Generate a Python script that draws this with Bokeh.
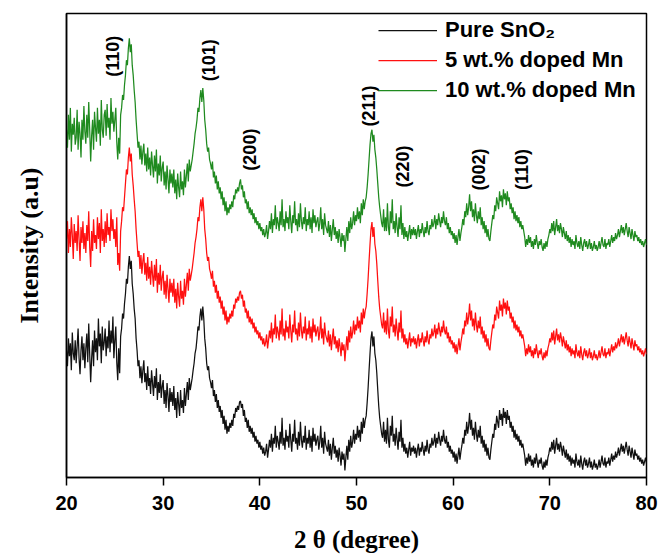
import numpy as np
from math import pi
from bokeh.plotting import figure
from bokeh.models import ColumnDataSource, Legend, LegendItem, FixedTicker, Range1d
from bokeh.core.properties import value
from bokeh.embed import file_html
from bokeh.resources import INLINE

# 2-theta scan grid (degrees), step 0.1
two_theta = np.round(20 + 0.1 * np.arange(601), 1)

# Intensities (a.u.); one line per degree (x.0 .. x.9)
pure_sno2 = [
    128, 112, 140, 122, 135, 108, 146, 125, 118, 138,
    115, 132, 150, 120, 104, 128, 142, 118, 135, 110,
    130, 145, 116, 155, 124, 96, 120, 138, 112, 148,
    126, 140, 118, 160, 132, 145, 115, 152, 128, 136,
    150, 122, 142, 130, 158, 126, 148, 135, 162, 120,
    138, 152, 116, 98, 130, 105, 142, 150, 165, 160,
    175, 185, 200, 195, 212, 223, 210, 218, 195, 185,
    170, 160, 140, 128, 112, 118, 100, 112, 95, 108,
    118, 96, 105, 88, 112, 92, 100, 84, 108, 95,
    82, 102, 90, 110, 78, 96, 85, 104, 80, 92,
    98, 74, 88, 70, 95, 82, 66, 90, 76, 86,
    72, 92, 68, 80, 60, 86, 74, 62, 88, 70,
    78, 65, 90, 72, 84, 96, 78, 100, 88, 94,
    100, 108, 115, 125, 130, 140, 152, 148, 162, 170,
    158, 172, 160, 140, 130, 115, 108, 112, 100, 96,
    90, 98, 82, 88, 76, 84, 70, 78, 66, 72,
    60, 68, 54, 62, 48, 58, 44, 52, 46, 55,
    50, 58, 52, 64, 60, 70, 66, 72, 68, 76,
    77, 70, 74, 62, 68, 56, 60, 50, 58, 46,
    52, 44, 50, 40, 46, 36, 42, 34, 38, 30,
    36, 28, 32, 24, 30, 22, 26, 34, 20, 28,
    38, 30, 44, 26, 40, 34, 52, 30, 42, 36,
    28, 46, 34, 60, 32, 40, 28, 48, 36, 42,
    30, 54, 38, 26, 44, 36, 58, 34, 40, 28,
    46, 32, 56, 38, 30, 42, 35, 52, 28, 40,
    34, 48, 30, 42, 26, 50, 36, 44, 32, 38,
    42, 28, 36, 52, 30, 40, 24, 46, 34, 30,
    26, 38, 22, 34, 18, 30, 40, 24, 32, 20,
    28, 16, 30, 22, 12, 26, 18, 24, 7, 20,
    32, 18, 38, 26, 42, 30, 36, 48, 34, 44,
    38, 52, 40, 48, 36, 56, 44, 60, 50, 58,
    62, 75, 90, 108, 125, 140, 147, 132, 142, 125,
    118, 105, 88, 72, 60, 52, 44, 40, 56, 36,
    48, 34, 60, 38, 30, 52, 42, 62, 36, 44,
    32, 50, 38, 28, 46, 36, 58, 30, 40, 26,
    34, 24, 30, 20, 28, 36, 22, 30, 26, 32,
    24, 30, 20, 28, 34, 22, 30, 26, 36, 28,
    22, 32, 26, 38, 28, 24, 34, 30, 40, 32,
    36, 44, 30, 40, 34, 46, 38, 32, 42, 36,
    48, 38, 34, 42, 30, 36, 26, 32, 24, 28,
    20, 26, 16, 24, 14, 22, 30, 18, 26, 32,
    40, 34, 48, 42, 56, 44, 52, 65, 48, 58,
    42, 50, 38, 56, 44, 36, 48, 40, 52, 34,
    42, 30, 38, 26, 34, 22, 30, 20, 18, 28,
    36, 44, 40, 54, 48, 62, 56, 50, 68, 58,
    64, 52, 70, 60, 66, 54, 68, 58, 62, 50,
    56, 46, 52, 40, 48, 38, 44, 36, 42, 32,
    38, 30, 34, 28, 22, 12, 20, 14, 24, 16,
    22, 12, 18, 10, 20, 14, 24, 16, 10, 18,
    14, 20, 12, 8, 16, 10, 18, 12, 20, 24,
    30, 26, 36, 28, 38, 24, 32, 40, 28, 34,
    26, 36, 30, 22, 32, 26, 20, 28, 18, 24,
    16, 22, 12, 20, 14, 18, 10, 24, 16, 12,
    18, 10, 22, 14, 8, 16, 20, 12, 18, 10,
    14, 20, 10, 16, 8, 12, 18, 10, 14, 8,
    12, 18, 10, 16, 22, 14, 12, 20, 10, 16,
    14, 20, 12, 18, 24, 16, 22, 18, 26, 20,
    24, 30, 22, 28, 34, 26, 32, 24, 30, 36,
    28, 22, 32, 26, 20, 30, 24, 18, 28, 22,
    24, 18, 22, 16, 20, 14, 18, 12, 16, 20,
    14,
]

mn_5 = [
    240, 258, 226, 250, 232, 262, 244, 220, 255, 236,
    248, 228, 264, 240, 218, 252, 236, 258, 230, 246,
    226, 254, 238, 268, 232, 212, 248, 228, 260, 236,
    244, 230, 262, 240, 256, 226, 270, 238, 250, 232,
    258, 236, 266, 244, 252, 238, 270, 248, 260, 240,
    250, 232, 262, 214, 226, 208, 248, 258, 272, 268,
    282, 296, 310, 305, 322, 332, 318, 326, 305, 294,
    280, 268, 250, 236, 222, 228, 210, 224, 205, 218,
    226, 204, 216, 198, 222, 200, 212, 194, 218, 204,
    192, 214, 198, 220, 186, 206, 194, 214, 188, 202,
    208, 184, 198, 180, 204, 190, 176, 200, 186, 196,
    182, 200, 176, 190, 170, 196, 182, 172, 198, 180,
    188, 174, 200, 182, 194, 206, 188, 210, 198, 204,
    210, 218, 226, 236, 242, 250, 262, 258, 272, 280,
    268, 282, 270, 250, 240, 226, 218, 222, 210, 206,
    200, 208, 192, 198, 186, 194, 180, 188, 176, 182,
    170, 178, 164, 172, 158, 168, 154, 162, 156, 165,
    160, 168, 162, 174, 170, 180, 176, 182, 178, 186,
    188, 180, 184, 172, 178, 166, 170, 160, 168, 156,
    162, 154, 160, 150, 156, 146, 152, 144, 148, 140,
    146, 138, 142, 134, 140, 132, 136, 144, 130, 138,
    148, 140, 156, 136, 150, 144, 164, 140, 152, 146,
    138, 158, 144, 170, 142, 150, 138, 158, 146, 152,
    140, 164, 148, 136, 154, 146, 168, 144, 150, 138,
    156, 142, 166, 148, 140, 152, 145, 162, 138, 150,
    144, 158, 140, 152, 136, 160, 146, 154, 142, 148,
    152, 138, 146, 162, 140, 150, 134, 156, 144, 140,
    136, 148, 132, 144, 128, 140, 150, 134, 142, 130,
    138, 126, 140, 132, 122, 136, 128, 134, 117, 130,
    142, 128, 148, 136, 152, 140, 146, 158, 144, 154,
    148, 162, 150, 158, 146, 166, 154, 170, 160, 168,
    172, 185, 200, 218, 235, 250, 257, 242, 252, 235,
    228, 215, 198, 182, 170, 162, 154, 150, 166, 146,
    158, 144, 170, 148, 140, 162, 152, 172, 146, 154,
    142, 160, 148, 138, 156, 146, 168, 140, 150, 136,
    144, 134, 140, 130, 138, 146, 132, 140, 136, 142,
    134, 140, 130, 138, 144, 132, 140, 136, 146, 138,
    132, 142, 136, 148, 138, 134, 144, 140, 150, 142,
    146, 154, 140, 150, 144, 156, 148, 142, 152, 146,
    158, 148, 144, 152, 140, 146, 136, 142, 134, 138,
    130, 136, 126, 134, 124, 132, 140, 128, 136, 142,
    150, 144, 158, 152, 166, 154, 162, 175, 158, 168,
    152, 160, 148, 166, 154, 146, 158, 150, 162, 144,
    152, 140, 148, 136, 144, 132, 140, 130, 128, 138,
    146, 154, 150, 164, 158, 172, 166, 160, 178, 168,
    174, 162, 180, 170, 176, 164, 178, 168, 172, 160,
    166, 156, 162, 150, 158, 148, 154, 146, 152, 142,
    148, 140, 144, 138, 132, 122, 130, 124, 134, 126,
    132, 122, 128, 120, 130, 124, 134, 126, 120, 128,
    124, 130, 122, 118, 126, 120, 128, 122, 130, 134,
    140, 136, 146, 138, 148, 134, 142, 150, 138, 144,
    136, 146, 140, 132, 142, 136, 130, 138, 128, 134,
    126, 132, 122, 130, 124, 128, 120, 134, 126, 122,
    128, 120, 132, 124, 118, 126, 130, 122, 128, 120,
    124, 130, 120, 126, 118, 122, 128, 120, 124, 118,
    122, 128, 120, 126, 132, 124, 122, 130, 120, 126,
    124, 130, 122, 128, 134, 126, 132, 128, 136, 130,
    134, 140, 132, 138, 144, 136, 142, 134, 140, 146,
    138, 132, 142, 136, 130, 140, 134, 128, 138, 132,
    134, 128, 132, 126, 130, 124, 128, 122, 126, 130,
    124,
]

mn_10 = [
    350, 332, 365, 340, 372, 328, 356, 345, 362, 335,
    342, 370, 330, 358, 346, 322, 360, 340, 374, 348,
    336, 365, 342, 378, 350, 318, 344, 360, 330, 368,
    352, 338, 372, 346, 360, 334, 380, 350, 342, 365,
    370, 344, 376, 352, 362, 340, 382, 356, 368, 348,
    360, 372, 338, 320, 342, 326, 365, 372, 385, 380,
    395, 405, 420, 415, 432, 442, 428, 436, 415, 405,
    390, 378, 360, 346, 332, 338, 320, 334, 315, 328,
    336, 314, 326, 308, 332, 310, 322, 304, 328, 314,
    302, 324, 308, 330, 296, 316, 304, 324, 298, 312,
    318, 294, 308, 290, 314, 300, 286, 310, 296, 306,
    292, 310, 286, 300, 280, 306, 292, 282, 308, 290,
    298, 284, 310, 292, 304, 316, 298, 320, 308, 314,
    320, 328, 336, 346, 352, 360, 372, 368, 382, 390,
    378, 392, 380, 360, 350, 336, 328, 332, 320, 316,
    310, 318, 302, 308, 296, 304, 290, 298, 286, 292,
    280, 288, 274, 282, 268, 278, 264, 272, 266, 275,
    270, 278, 272, 284, 280, 290, 286, 292, 288, 296,
    300, 290, 294, 282, 288, 276, 280, 270, 278, 266,
    272, 264, 270, 260, 266, 256, 262, 254, 258, 250,
    256, 248, 252, 244, 250, 242, 246, 254, 240, 248,
    258, 250, 266, 246, 260, 254, 274, 250, 262, 256,
    248, 268, 254, 280, 252, 260, 248, 268, 256, 262,
    250, 274, 258, 246, 264, 256, 278, 254, 260, 248,
    266, 252, 276, 258, 250, 262, 255, 272, 248, 260,
    254, 268, 250, 262, 246, 270, 256, 264, 252, 258,
    262, 248, 256, 272, 250, 260, 244, 266, 254, 250,
    246, 258, 242, 254, 238, 250, 260, 244, 252, 240,
    248, 236, 250, 242, 232, 246, 238, 244, 227, 240,
    252, 238, 258, 246, 262, 250, 256, 268, 254, 264,
    258, 272, 260, 268, 256, 276, 264, 280, 270, 278,
    282, 292, 305, 320, 335, 346, 350, 338, 345, 330,
    322, 310, 296, 282, 272, 264, 256, 252, 270, 248,
    262, 248, 276, 252, 244, 268, 256, 280, 250, 258,
    246, 266, 252, 242, 262, 250, 274, 244, 256, 240,
    252, 242, 248, 238, 246, 254, 240, 250, 244, 252,
    244, 250, 240, 248, 254, 242, 250, 246, 256, 248,
    242, 252, 246, 258, 248, 244, 254, 250, 260, 252,
    256, 264, 250, 260, 254, 266, 258, 252, 262, 256,
    268, 258, 254, 262, 250, 256, 246, 252, 244, 248,
    240, 246, 236, 244, 234, 242, 250, 238, 246, 252,
    260, 254, 268, 262, 276, 264, 272, 285, 268, 278,
    262, 270, 258, 276, 264, 256, 268, 260, 272, 254,
    262, 250, 258, 246, 254, 242, 250, 240, 238, 248,
    256, 264, 260, 274, 268, 282, 276, 270, 288, 278,
    284, 272, 290, 280, 286, 274, 288, 278, 282, 270,
    276, 266, 272, 260, 268, 258, 264, 256, 262, 252,
    258, 250, 254, 248, 242, 232, 240, 234, 244, 236,
    242, 232, 238, 230, 240, 234, 244, 236, 230, 238,
    234, 240, 232, 228, 236, 230, 238, 232, 240, 244,
    250, 246, 256, 248, 258, 244, 252, 260, 248, 254,
    246, 256, 250, 242, 252, 246, 240, 248, 238, 244,
    236, 242, 232, 240, 234, 238, 230, 244, 236, 232,
    238, 230, 242, 234, 228, 236, 240, 232, 238, 230,
    234, 240, 230, 236, 228, 232, 238, 230, 234, 228,
    232, 238, 230, 236, 242, 234, 232, 240, 230, 236,
    234, 240, 232, 238, 244, 236, 242, 238, 246, 240,
    244, 250, 242, 248, 254, 246, 252, 244, 250, 256,
    248, 242, 252, 246, 240, 250, 244, 238, 248, 242,
    244, 238, 242, 236, 240, 234, 238, 232, 236, 240,
    234,
]

series_names = ["Pure SnO\u2082", "5 wt.% doped Mn", "10 wt.% doped Mn"]
series_colors = ["#111111", "#ff1010", "#1f8a1f"]

# Miller-index annotations: label, 2-theta position, height (a.u.)
peak_labels = ["(110)", "(101)", "(200)", "(211)", "(220)", "(002)", "(110)"]
peak_x = [24.86, 34.69, 39.03, 51.34, 54.76, 62.72, 67.07]
peak_y = [424, 420, 330, 374, 313, 310, 310]

x_ticks = [20, 30, 40, 50, 60, 70, 80]

p = figure(width=658, height=555, output_backend="svg", toolbar_location=None,
           x_range=Range1d(20, 80), y_range=Range1d(0, 467),
           min_border_left=66, min_border_right=12, min_border_top=13,
           min_border_bottom=75)
p.grid.visible = False
p.outline_line_color = "black"
p.outline_line_width = 1.5

renderers = []
for ys, c in zip([pure_sno2, mn_5, mn_10], series_colors):
    src = ColumnDataSource(dict(x=two_theta, y=ys))
    r = p.line("x", "y", source=src, line_color=c, line_width=1.25)
    renderers.append(r)

lab_src = ColumnDataSource(dict(x=peak_x, y=peak_y, t=peak_labels))
p.text("x", "y", text="t", source=lab_src, angle=pi / 2,
       text_align="center", text_baseline="middle",
       text_font=value("Liberation Sans"), text_font_style="bold",
       text_font_size="18px", text_color="black")

# axes
p.xaxis.ticker = FixedTicker(ticks=x_ticks)
p.xaxis.minor_tick_line_color = None
p.xaxis.major_tick_in = 0
p.xaxis.major_tick_out = 8
p.xaxis.major_tick_line_width = 1.5
p.xaxis.axis_line_width = 1.5
p.xaxis.major_label_text_font = "Liberation Sans"
p.xaxis.major_label_text_font_style = "bold"
p.xaxis.major_label_text_font_size = "20px"
p.xaxis.major_label_text_color = "black"
p.xaxis.major_label_standoff = 10
p.xaxis.axis_label = "2 \u03b8 (degree)"
p.xaxis.axis_label_text_font = "Liberation Serif"
p.xaxis.axis_label_text_font_style = "bold"
p.xaxis.axis_label_text_font_size = "25px"
p.xaxis.axis_label_text_color = "black"
p.xaxis.axis_label_standoff = 13

p.yaxis.ticker = FixedTicker(ticks=[])
p.yaxis.minor_tick_line_color = None
p.yaxis.major_tick_line_color = None
p.yaxis.axis_line_width = 1.5
p.yaxis.axis_label = "Intensity (a.u)"
p.yaxis.axis_label_text_font = "Liberation Serif"
p.yaxis.axis_label_text_font_style = "bold"
p.yaxis.axis_label_text_font_size = "26px"
p.yaxis.axis_label_text_color = "black"
p.yaxis.axis_label_standoff = 23

legend = Legend(items=[LegendItem(label=n, renderers=[r]) for n, r in zip(series_names, renderers)],
                location=(312, 372), padding=0, margin=0, spacing=0,
                glyph_width=59, label_standoff=8, label_height=30, glyph_height=30,
                label_text_font="Liberation Sans", label_text_font_style="bold",
                label_text_font_size="22px", label_text_color="black",
                border_line_color=None, background_fill_alpha=0)
p.add_layout(legend)

open("out.html", "w").write(file_html(p, INLINE))
